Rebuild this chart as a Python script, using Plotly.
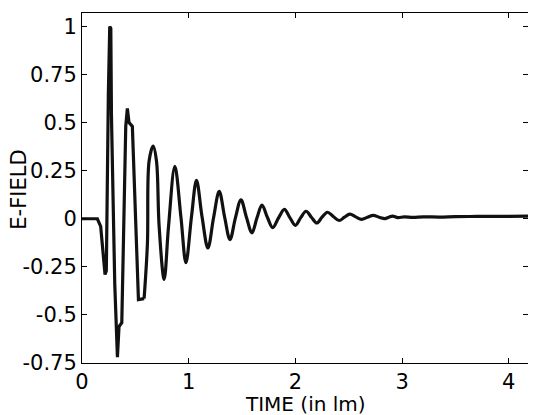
import plotly.graph_objects as go

# early, jagged part of the pulse (read point by point)
t_early = [0.000, 0.144, 0.175, 0.197, 0.216, 0.228, 0.235, 0.247, 0.260, 0.270,
           0.276, 0.294, 0.307, 0.332, 0.347, 0.373, 0.394, 0.410, 0.425, 0.441,
           0.472, 0.498, 0.529, 0.582]
e_early = [0.000, 0.000, -0.040, -0.160, -0.290, -0.270, 0.110, 0.650, 1.000, 0.990,
           0.540, 0.110, -0.340, -0.720, -0.560, -0.540, 0.040, 0.480, 0.574, 0.500,
           0.480, 0.040, -0.420, -0.415]

# damped ringing that follows (peaks, troughs and crossings)
t_ring = [0.582, 0.613, 0.629, 0.667, 0.698, 0.723, 0.770, 0.811, 0.870, 0.927,
          0.974, 1.026, 1.073, 1.125, 1.180, 1.233, 1.286, 1.337, 1.387, 1.438,
          1.490, 1.541, 1.593, 1.640, 1.687, 1.737, 1.787, 1.842, 1.897, 1.948,
          2.000, 2.050, 2.100, 2.150, 2.200, 2.250, 2.300, 2.355, 2.410, 2.460,
          2.510, 2.565, 2.620, 2.675, 2.730, 2.785, 2.840, 2.875, 2.910, 2.960,
          3.020, 3.100, 3.200, 3.350, 3.500, 3.700, 3.900, 4.180]
e_ring = [-0.415, -0.130, 0.300, 0.378, 0.300, -0.040, -0.315, -0.040, 0.273, 0.010,
          -0.228, 0.010, 0.200, 0.010, -0.152, 0.005, 0.143, 0.008, -0.108, 0.005,
          0.098, 0.008, -0.073, 0.005, 0.071, 0.008, -0.046, 0.005, 0.049, 0.006,
          -0.034, 0.006, 0.039, 0.008, -0.022, 0.008, 0.034, 0.012, -0.009, 0.008,
          0.024, 0.010, -0.003, 0.008, 0.018, 0.008, 0.001, 0.008, 0.014, 0.006,
          0.010, 0.007, 0.010, 0.009, 0.011, 0.012, 0.012, 0.014]

x_ticks = [0, 1, 2, 3, 4]
y_ticks = [-0.75, -0.5, -0.25, 0, 0.25, 0.5, 0.75, 1]
y_ticktext = ["-0.75", "-0.5", "-0.25", "0", "0.25", "0.5", "0.75", "1"]

FONT = "DejaVu Sans"
line_style = dict(color="#111111", width=3.2)

fig = go.Figure()
fig.add_trace(go.Scatter(x=t_early, y=e_early, mode="lines", line=line_style))
fig.add_trace(go.Scatter(x=t_ring, y=e_ring, mode="lines",
                         line=dict(line_style, shape="spline", smoothing=1)))

axis_common = dict(showline=True, linecolor="black", linewidth=1, mirror="ticks",
                   ticks="inside", ticklen=5, tickcolor="black", showgrid=False,
                   zeroline=False, automargin=False,
                   tickfont=dict(family=FONT, size=21, color="black"))

fig.update_xaxes(range=[0, 4.18], tickvals=x_ticks, **axis_common)
fig.update_yaxes(range=[-0.75, 1.07], tickvals=y_ticks, ticktext=y_ticktext, **axis_common)

fig.add_annotation(text="TIME (in lm)", xref="paper", yref="paper", x=0.5, y=-0.118,
                   xanchor="center", yanchor="middle", showarrow=False,
                   font=dict(family=FONT, size=20, color="black"))
fig.add_annotation(text="E-FIELD", xref="paper", yref="paper", x=-0.14, y=0.494,
                   xanchor="center", yanchor="middle", textangle=-90, showarrow=False,
                   font=dict(family=FONT, size=21, color="black"))

# page body adds 8px around the plot, so the figure is 8px smaller than the window
fig.update_layout(width=528, height=407, showlegend=False,
                  margin=dict(l=74, r=8, t=5, b=52),
                  paper_bgcolor="white", plot_bgcolor="white")

fig.write_html("out.html")
